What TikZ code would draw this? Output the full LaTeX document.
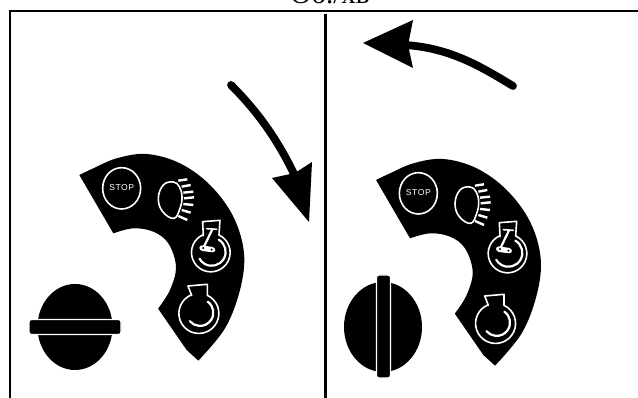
\documentclass[tikz,border=0pt]{standalone}
\usepackage{fontspec}
\setmainfont{Liberation Serif}
\newfontfamily\lsans[LetterSpace=6]{Liberation Sans}
\tikzset{
  frameline/.style={line width=2.4pt,black},
  shaft/.style={line width=7.8pt,black,line cap=round},
  icon/.style={draw=white,line width=1.6pt,line join=round,line cap=round},
  knobbar/.style={fill=black,draw=white,line width=1.2pt,rounded corners=2.5pt}
}
\newcommand{\gaugepanel}[5]{%
\begin{scope}[shift={(#1,#2)},x=0.3333pt,y=-0.3333pt]
 \fill[black,line join=round] plot[smooth,tension=0.6] coordinates {(28,105)(70,85)(140,55)(230,42)(330,70)(420,135)(490,230)(522,340)(510,450)(465,565)(385,662)}
   -- (350,630) -- (265,507)
   -- plot[smooth,tension=0.6] coordinates {(265,505)(300,450)(318,380)(295,310)(250,275)(190,265)(130,280)} -- cycle;
 \draw[icon] (155,145) ellipse [x radius=57,y radius=62];
 \node[text=white,font=\lsans\fontsize{8.6}{9}\selectfont,inner sep=0pt] (#3stop) at (155,143) {STOP};
 \draw[icon] plot[smooth cycle,tension=0.7] coordinates {(310,126)(280,135)(265,175)(278,215)(312,235)(330,205)(336,170)(328,140)};
 \foreach \a/\b/\c/\d in {325/122/352/118,335/140/362/135,340/158/370/155,342/175/372/172,340/192/370/195,335/210/362/218,325/228/352/240}
   \draw[icon,line width=2.4pt,line cap=butt] (\a,\b) -- (\c,\d);
 % run icon
 \begin{scope}[shift={(0,#4)}]
 \draw[icon] (400,287) -- (398,245) -- (450,241) -- (447,285) arc[start angle=-65,end angle=245,radius=58] -- cycle;
 \draw[icon,line width=2.2pt] (446,299) arc[start angle=-60,end angle=150,radius=42];
 \draw[icon] (410,266) -- (440,268);
 \draw[icon,line width=2.2pt] (427,268) -- (402,320);
 \fill[white,rounded corners=3pt] (388,315) -- (436,322) -- (436,338) -- (388,332) -- cycle;
 \fill[black] (400,324) circle (3.5);
 \fill[black] (425,329) circle (3.5);
 \end{scope}
 % start icon
 \begin{scope}[shift={(0,#5)}]
 \draw[icon] (365,466) -- (354,438) -- (412,433) -- (412,466) arc[start angle=-65,end angle=245,radius=60] -- cycle;
 \draw[icon,line width=2.2pt] (413,485) arc[start angle=-55,end angle=140,radius=40];
 \end{scope}
\end{scope}}
\begin{document}
\begin{tikzpicture}[x=1pt,y=-1pt]
\useasboundingbox (0,0) rectangle (638,398);
\fill[white] (0,0) rectangle (638,398);
\begin{scope}
\clip (0,0) rectangle (638,398);
\node[anchor=base,font=\fontsize{29}{32}\selectfont,inner sep=0pt] (title) at (330,3.5) {Об./хв};
\end{scope}
\draw[frameline] (10,398) -- (10,11) -- (638,11);
\draw[line width=2.8pt] (325.7,14) -- (325.7,398);
% left arrow
\draw[shaft] (231,85) .. controls (258,112) and (278,140) .. (296,178);
\fill (309,222) -- (272,178) -- (295,173) -- (312,162) -- cycle;
% right arrow
\draw[shaft] (513,86) .. controls (480,66) and (450,48) .. (405,45);
\fill (363,43) -- (413,20) -- (408,45) -- (413,68) -- cycle;
\gaugepanel{70}{140}{l}{0}{0}
\gaugepanel{366.7}{145}{r}{-12}{15}
% left knob
\fill (75,327) ellipse [x radius=37.5,y radius=43];
\draw[knobbar] (29,319.5) rectangle (121,334.5);
% right knob
\fill (383,327) ellipse [x radius=39,y radius=45];
\draw[knobbar] (376.5,275) rectangle (390.5,378);
\end{tikzpicture}
\end{document}
